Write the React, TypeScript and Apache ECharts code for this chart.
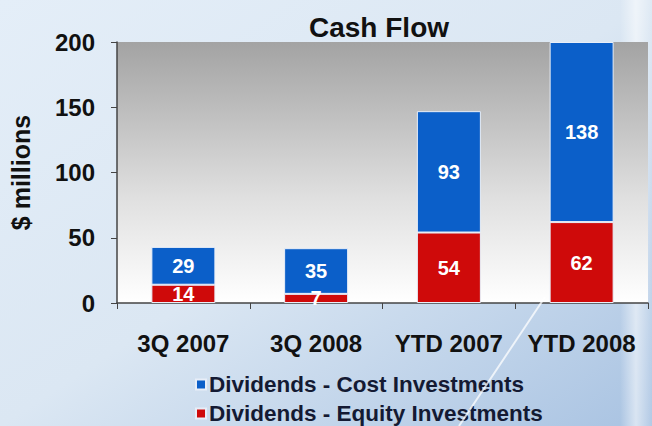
import React, { useEffect, useRef } from "react";
import * as echarts from "echarts";

const categories = ["3Q 2007", "3Q 2008", "YTD 2007", "YTD 2008"];
const equityValues = [14, 7, 54, 62];
const costValues = [29, 35, 93, 138];
const yTicks = [0, 50, 100, 150, 200];

const FONT = "Liberation Sans, Arial, sans-serif";

export default function App() {
  const ref = useRef<HTMLDivElement>(null);
  useEffect(() => {
    document.body.style.margin = "0";
    const chart = echarts.init(ref.current!, null, { renderer: "svg" });
    const labelStyle = {
      show: true,
      position: "inside" as const,
      color: "#ffffff",
      fontWeight: "bold" as const,
      fontSize: 20,
      fontFamily: FONT,
    };
    chart.setOption({
      animation: false,
      backgroundColor: new echarts.graphic.LinearGradient(0, 0, 1, 1, [
        { offset: 0, color: "#e4eef8" },
        { offset: 0.5, color: "#dbe7f3" },
        { offset: 1, color: "#a9c3e2" },
      ]),
      title: {
        text: "Cash Flow",
        left: 374,
        top: 8,
        textAlign: "center",
        textStyle: {
          fontSize: 28,
          fontWeight: "bold",
          color: "#111111",
          fontFamily: FONT,
        },
      },
      graphic: [
        {
          type: "rect",
          shape: { x: 620, y: 0, width: 32, height: 426 },
          style: {
            fill: new echarts.graphic.LinearGradient(0, 0, 1, 0, [
              { offset: 0, color: "rgba(255,255,255,0)" },
              { offset: 0.5, color: "rgba(255,255,255,0.55)" },
              { offset: 1, color: "rgba(255,255,255,0.1)" },
            ]),
          },
          z: -1,
        },
        {
          type: "line",
          shape: { x1: 545, y1: 297, x2: 459, y2: 426 },
          style: { stroke: "rgba(255,255,255,0.75)", lineWidth: 2 },
          z: 10,
        },
      ],
      legend: {
        orient: "vertical",
        left: 195,
        top: 373,
        padding: 0,
        itemWidth: 10,
        itemHeight: 10,
        itemGap: 6,
        icon: "rect",
        data: ["Dividends - Cost Investments", "Dividends - Equity Investments"],
        textStyle: {
          fontSize: 22.5,
          fontWeight: "bold",
          color: "#141a33",
          fontFamily: FONT,
          padding: [0, 0, 0, -2],
        },
      },
      grid: {
        left: 116,
        right: 4,
        top: 42,
        bottom: 123,
        show: true,
        borderWidth: 0,
        backgroundColor: new echarts.graphic.LinearGradient(0, 0, 0, 1, [
          { offset: 0, color: "#a3a3a3" },
          { offset: 0.6, color: "#e0e0e0" },
          { offset: 1, color: "#ffffff" },
        ]),
      },
      xAxis: {
        type: "category",
        data: categories,
        axisLine: { show: true, lineStyle: { color: "#444444", width: 1.5 } },
        axisTick: { show: true, length: 6, lineStyle: { color: "#444444" } },
        axisLabel: {
          interval: 0,
          hideOverlap: false,
          margin: 28,
          fontSize: 24,
          fontWeight: "bold",
          color: "#111111",
          fontFamily: FONT,
        },
      },
      yAxis: {
        type: "value",
        min: yTicks[0],
        max: yTicks[yTicks.length - 1],
        interval: 50,
        name: "$ millions",
        nameLocation: "middle",
        nameGap: 84,
        nameRotate: 90,
        nameTextStyle: {
          fontSize: 25,
          fontWeight: "bold",
          color: "#111111",
          fontFamily: FONT,
        },
        splitLine: { show: false },
        axisLine: { show: true, lineStyle: { color: "#444444", width: 1.5 } },
        axisTick: { show: true, length: 6, inside: false, lineStyle: { color: "#444444" } },
        axisLabel: {
          margin: 22,
          fontSize: 24,
          fontWeight: "bold",
          color: "#111111",
          fontFamily: FONT,
        },
      },
      series: [
        {
          name: "Dividends - Equity Investments",
          type: "bar",
          stack: "total",
          data: equityValues,
          barWidth: 64,
          itemStyle: { color: "#cf0a0a", borderColor: "#e8eef8", borderWidth: 1 },
          label: labelStyle,
        },
        {
          name: "Dividends - Cost Investments",
          type: "bar",
          stack: "total",
          data: costValues,
          barWidth: 64,
          itemStyle: { color: "#0b5fc9", borderColor: "#e8eef8", borderWidth: 1 },
          label: labelStyle,
        },
      ],
    });
    return () => chart.dispose();
  }, []);
  return <div ref={ref} style={{ width: 652, height: 426 }} />;
}
